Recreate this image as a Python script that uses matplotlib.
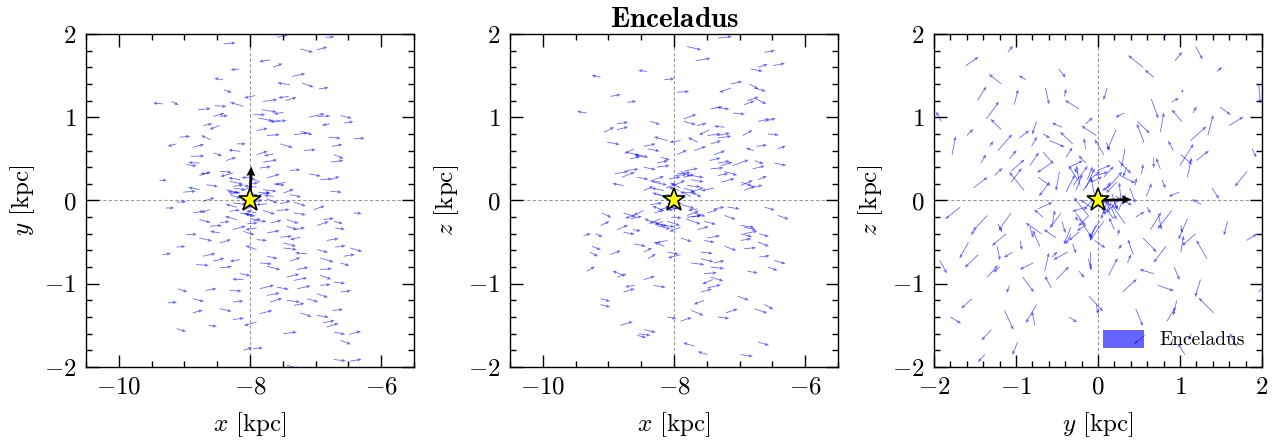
import matplotlib
matplotlib.use("Agg")
import matplotlib.pyplot as plt
from matplotlib.ticker import MultipleLocator

plt.rcParams['font.family'] = 'cmr10'
plt.rcParams['mathtext.fontset'] = 'cm'
plt.rcParams['axes.formatter.use_mathtext'] = True

# star positions [kpc] and velocities [km/s]
x = [-8.40, -7.59, -7.23, -6.98, -6.85, -7.69, -7.65, -8.17, -8.41, -8.40,
     -7.36, -7.21, -7.39, -6.95, -7.92, -7.80, -7.41, -7.46, -9.33, -9.20,
     -8.79, -8.54, -8.10, -7.82, -7.95, -7.49, -8.56, -8.46, -7.87, -7.67,
     -7.54, -7.10, -6.98, -6.62, -6.57, -8.71, -8.46, -6.78, -7.90, -7.74,
     -7.33, -7.23, -9.07, -8.60, -6.80, -6.42, -9.12, -8.87, -8.20, -7.54,
     -6.75, -8.15, -8.56, -8.90, -7.90, -7.64, -7.18, -6.72, -6.77, -8.77,
     -8.97, -8.36, -7.80, -8.46, -8.26, -7.85, -7.39, -7.10, -8.77, -8.61,
     -9.38, -8.31, -8.15, -7.74, -7.64, -7.46, -6.93, -6.77, -8.66, -8.26,
     -8.36, -9.02, -8.77, -7.80, -7.49, -6.77, -8.15, -8.31, -7.85, -7.64,
     -7.39, -9.12, -8.72, -8.26, -7.74, -7.54, -7.33, -9.28, -8.87, -8.61,
     -8.31, -8.10, -7.90, -7.59, -7.33, -7.03, -6.42, -8.77, -8.46, -8.20,
     -7.95, -7.69, -7.44, -6.88, -6.72, -8.61, -8.26, -7.90, -7.44, -7.33,
     -6.98, -6.70, -8.97, -8.77, -8.46, -8.10, -7.74, -7.54, -7.23, -8.46,
     -7.90, -7.49, -6.83, -9.12, -7.90, -7.49, -6.98, -6.70, -6.47, -9.33,
     -8.72, -7.74, -7.13, -6.93, -6.57, -8.82, -8.56, -8.15, -7.85, -7.39,
     -6.62, -8.46, -7.74, -7.28, -6.93, -8.15, -7.44, -6.93, -8.10, -7.33,
     -6.72, -7.85, -7.59, -6.93, -9.10, -8.67, -8.31, -7.28, -6.98, -6.62,
     -7.74, -8.87, -8.26, -7.69, -7.44, -7.13, -9.25, -7.33, -8.46, -7.85,
     -7.23, -6.74, -8.87, -6.98, -8.26, -7.90, -6.88, -8.63, -6.83, -9.12,
     -7.49, -6.72, -6.49, -6.62, -7.95, -8.10, -6.72, -6.47, -7.44,
     -8.05, -7.95, -8.12, -7.88, -8.20, -7.80, -8.02, -7.92, -8.10, -7.98,
     -8.25, -7.85, -8.00, -8.15, -7.90, -8.08, -7.75, -8.30, -7.96, -8.04]
y = [1.88, 1.96, 1.82, 1.81, 1.96, 1.69, 1.60, 1.58, 1.45, 1.33,
     1.49, 1.41, 1.39, 1.34, 1.26, 1.19, 1.25, 1.20, 1.16, 1.19,
     1.09, 1.14, 1.13, 1.09, 1.03, 1.06, 1.01, 1.01, 0.99, 0.94,
     0.96, 1.00, 1.01, 1.02, 0.93, 0.90, 0.90, 0.92, 0.84, 0.78,
     0.79, 0.83, 0.76, 0.73, 0.76, 0.74, 0.68, 0.64, 0.68, 0.68,
     0.65, 0.59, 0.57, 0.53, 0.55, 0.56, 0.60, 0.55, 0.46, 0.45,
     0.43, 0.48, 0.46, 0.35, 0.33, 0.39, 0.36, 0.32, 0.30, 0.33,
     0.24, 0.23, 0.25, 0.27, 0.20, 0.22, 0.25, 0.25, 0.19, 0.17,
     0.13, 0.10, 0.13, 0.13, 0.09, 0.11, 0.09, 0.07, 0.07, 0.05,
     0.07, -0.02, -0.01, -0.03, -0.04, -0.04, -0.02, -0.09, -0.15, -0.11,
     -0.13, -0.15, -0.15, -0.12, -0.15, -0.11, -0.15, -0.23, -0.27, -0.23,
     -0.24, -0.27, -0.23, -0.23, -0.25, -0.31, -0.35, -0.33, -0.31, -0.35,
     -0.30, -0.33, -0.41, -0.45, -0.39, -0.37, -0.39, -0.44, -0.44, -0.51,
     -0.47, -0.51, -0.48, -0.56, -0.59, -0.57, -0.59, -0.56, -0.57, -0.65,
     -0.67, -0.67, -0.64, -0.69, -0.67, -0.77, -0.73, -0.71, -0.75, -0.73,
     -0.75, -0.81, -0.79, -0.83, -0.83, -0.88, -0.92, -0.90, -0.95, -0.96,
     -0.98, -1.06, -1.04, -1.02, -1.06, -1.08, -1.08, -1.06, -1.12, -1.10,
     -1.14, -1.18, -1.22, -1.22, -1.20, -1.18, -1.23, -1.26, -1.30, -1.36,
     -1.35, -1.32, -1.35, -1.38, -1.43, -1.46, -1.47, -1.50, -1.52, -1.54,
     -1.60, -1.58, -1.61, -1.68, -1.78, -1.80, -1.91, -1.93, -1.98,
     0.05, -0.06, 0.12, 0.10, -0.08, -0.12, 0.20, -0.18, 0.02, -0.03,
     0.15, 0.22, -0.22, -0.15, 0.16, -0.10, 0.02, 0.08, 0.28, -0.28]
z = [0.62, -1.10, 0.35, -0.48, 1.40, -1.75, 0.90, -0.25, 1.55, -0.70,
     1.12, -1.35, 0.15, 0.78, -0.05, 1.85, -0.95, 0.48, 1.05, -0.40,
     0.28, -1.60, 0.72, -0.22, 1.30, -1.85, 0.55, -0.62, 0.10, 1.68,
     -1.20, 0.42, -0.30, 0.95, -0.80, 1.18, -0.12, 0.60, -1.45, 0.25,
     1.95, -0.55, 0.82, -1.02, 0.38, -0.18, 1.48, -0.35, 0.52, -0.88,
     1.22, 0.05, -1.62, 0.32, -0.45, 0.70, -0.08, 1.60, -1.30, 0.18,
     -0.65, 0.95, -0.20, 0.40, -0.28, 0.15, -0.75, 1.05, -1.10, 0.62,
     -0.42, 0.22, -0.12, 0.30, -0.35, 0.85, -0.58, 0.48, -0.22, 0.08,
     -0.05, 0.70, -0.90, 0.18, -0.15, 1.35, 0.12, -0.25, 0.28, -0.10,
     0.55, -1.25, 0.36, -0.30, 0.05, -0.48, 0.78, -0.62, 0.92, -0.18,
     0.25, -0.08, 0.15, -0.70, 0.45, -1.15, 0.62, -0.38, 0.12, -0.22,
     0.32, -0.15, 1.10, -0.85, 0.25, -0.52, 0.40, -0.32, 0.68, -1.40,
     0.18, -0.40, 1.25, -0.15, 0.52, -0.62, 0.10, -0.25, 0.88, -0.95,
     0.35, -0.45, 1.58, -0.30, 0.72, -1.05, 0.22, -0.68, 0.45, -0.85,
     0.58, -0.20, 1.35, -0.40, 0.80, -1.50, 0.28, -0.55, 0.95, -0.10,
     -1.25, 0.65, -0.75, 0.42, -0.32, 1.45, -0.92, 0.12, -0.48, 0.75,
     -1.70, 0.35, -0.62, 1.15, -0.15, 0.50, -1.02, 0.22, -0.40, 1.78,
     -1.32, 0.85, -0.28, 0.60, -0.80, 1.40, -0.55, 0.30, -1.55, 0.98,
     -0.18, 0.65, -0.92, -1.85, 0.45, -0.65, 1.20, -0.35, 0.15, -1.18,
     0.78, -0.50, 1.62, -0.08, 0.55, -1.40, 0.95, -0.72, 0.38,
     0.08, -0.10, 0.15, -0.05, 0.22, -0.18, -0.02, 0.12, -0.25, 0.30,
     -0.12, 0.05, 0.18, -0.30, -0.08, 0.26, 0.10, -0.15, 0.02, -0.20]
vx = [160, 150, 170, 140, 120, -150, 130, -110, -120, 110,
      180, 160, -170, 130, -150, 190, -140, 150, -130, 100,
      170, 160, -180, 200, 160, -130, 150, 110, 190, 200,
      -140, 210, 180, 150, 130, 120, -140, -110, 150, 170,
      190, 160, 140, -130, 160, 150, -120, 150, 120, 170,
      140, -160, 120, 180, 150, -130, 160, 130, 170, -150,
      140, 130, 190, 160, -170, 150, 140, 160, 150, -130,
      100, 180, -160, 170, 150, -140, 160, 120, 150, 140,
      160, 170, -150, 180, 140, 150, -170, 150, 140, -130,
      150, 130, 160, 180, -150, 140, 160, 110, 150, -120,
      140, 150, -140, 170, 160, 150, 110, 150, 130, -160,
      180, 150, 160, 140, 120, 160, 170, -150, 140, 150,
      160, 130, 140, 170, -130, 150, 170, 160, -140, 150,
      140, 170, 160, 120, -150, 180, 150, 140, 160, 110,
      170, 140, -160, 180, 150, 170, 150, -140, 160, 140,
      120, 160, 180, 150, 160, 140, 170, 150, -150, 180,
      150, 190, 160, 140, 130, 140, 160, 180, 150, 140,
      170, 150, 140, 160, 180, 150, 120, 140, 160, 170,
      150, 140, 130, 160, 150, -170, 150, 110, 160, 130,
      180, 150, 160, 140, 130, 120, 160, 150, 170,
      150, -160, 140, 170, -150, 160, 130, -140, 170, 150,
      160, -130, 150, 140, -170, 160, 150, 130, -150, 140]
vy = [12, 28, -35, 30, 5, -20, 40, -10, 15, -30,
      30, -42, 20, 15, -25, 20, -15, 35, 10, -38,
      12, -10, 44, -25, 0, -20, 32, 8, -30, 20,
      -10, 38, 5, -28, 15, 20, -40, -15, 25, 10,
      20, -35, 10, 45, -12, 8, -25, 30, 0, -40,
      20, 15, -30, 5, 38, -20, 10, -42, 20, 5,
      -15, 35, 25, -10, -38, 15, 10, -25, 40, -10,
      5, -30, 20, 42, -15, -25, 10, 35, -20, 15,
      -35, 10, 25, -18, 40, -10, 15, -40, 28, 10,
      -25, 5, 38, -15, -10, 30, -42, 0, 20, -30,
      15, -38, 25, 10, -20, 40, -5, -30, 18, 35,
      -12, 28, -40, 15, -25, 10, 38, -20, -35, 22,
      40, -15, 5, -32, 18, -40, 25, 10, -28, 36,
      -10, -35, 20, 8, 42, -18, -30, 15, -40, 12,
      30, -25, 10, -44, 20, -8, 35, -20, -12, 40,
      -30, 15, -38, 25, 10, -20, 32, -42, 5, 28,
      -15, 38, -25, 10, -35, 20, -8, 30, -40, 15,
      25, -30, 12, 40, -18, -35, 8, 22, -28, 35,
      -40, 10, 30, -20, 15, -38, 25, -12, 40, -30,
      18, -25, 35, -42, 10, 30, -15, 20, -35,
      20, -35, 40, -15, 30, -40, 10, 25, -30, 35,
      -20, 45, -10, -25, 15, 30, -45, 20, -5, 10]
vz = [-24, 33, -42, 18, -54, 36, 24, -39, 12, 51,
      -21, 42, -30, 57, 15, -36, -48, 27, 18, -33,
      54, -18, 39, -57, 9, 30, -27, 45, -12, 24,
      -42, 60, -21, 33, -36, 12, -51, 27, 39, -24,
      18, -45, 54, -15, 30, -39, 21, 48, -30, 12,
      -54, 36, -24, 27, -39, 51, -18, 33, -48, 21,
      42, -33, 15, -27, 54, -42, 24, -12, 36, -51,
      18, -30, 45, -21, 33, -57, 12, -36, 27, -45,
      18, -24, 48, -15, 39, -33, 24, -54, 30, -18,
      42, -27, 15, -39, 51, -21, 27, -45, 18, -30,
      36, -12, 54, -33, 21, -42, 30, -24, 45, -51,
      15, -36, 24, -18, 39, -27, 18, -48, 33, -15,
      54, -30, 21, -42, 27, -21, 48, -33, 12, 36,
      -54, 24, -24, 42, -18, 33, -39, 15, -27, 51,
      -33, 21, -45, 30, -12, 39, -24, 45, -36, 18,
      -51, 27, -18, 36, -30, 12, -42, 51, -27, 21,
      -36, 33, -15, 42, -48, 24, -21, 39, -33, 18,
      -54, 30, -24, 45, -15, 27, -39, 21, -30, 48,
      -42, 15, 33, -21, 24, -36, 39, -15, 30, -27,
      18, -45, 24, -33, 51, -18, 27, -36, 12,
      -30, 25, 45, -40, 15, 50, -20, 35, -45, 10,
      40, -25, 55, -15, -35, 20, -50, 30, 45, -10]

sun_pos = [-8.0, 0.0, 0.0]
sun_vel = [11.1, 245.0, 7.3]

label = 'Enceladus'

# (position indices, x-limits, major, minor, labels, quiver scale)
panels = [
    ((0, 1), (-10.5, -5.5), 2, 0.5, r'$x$ [kpc]', r'$y$ [kpc]', 880),
    ((0, 2), (-10.5, -5.5), 2, 0.5, r'$x$ [kpc]', r'$z$ [kpc]', 880),
    ((1, 2), (-2, 2), 1, 0.2, r'$y$ [kpc]', r'$z$ [kpc]', 230),
]
pos = [x, y, z]
vel = [vx, vy, vz]

fig = plt.figure(figsize=(12.86, 4.43), dpi=100)
lefts = [0.0669, 0.3966, 0.7263]

for k, (idx, xlim, xmaj, xmin, xl, yl, scale) in enumerate(panels):
    ax = fig.add_axes([lefts[k], 0.1716, 0.255, 0.7517])
    i, j = idx
    ax.axvline(sun_pos[i], color='0.6', ls=(0, (3, 2)), lw=0.8, zorder=0)
    ax.axhline(sun_pos[j], color='0.6', ls=(0, (3, 2)), lw=0.8, zorder=0)
    ax.quiver(pos[i], pos[j], vel[i], vel[j], angles='xy', scale_units='xy',
              scale=scale, color='blue', alpha=0.6, width=0.0025,
              headwidth=4, headlength=5, headaxislength=4.5,
              label=label, zorder=2)
    ax.quiver([sun_pos[i]], [sun_pos[j]], [sun_vel[i]], [sun_vel[j]],
              angles='xy', scale_units='xy', scale=600, color='black',
              width=0.0085, headwidth=3.2, headlength=3.4, headaxislength=3.1,
              zorder=4)
    ax.plot(sun_pos[i], sun_pos[j], marker='*', ms=17, mfc='yellow',
            mec='black', mew=1.2, zorder=5)
    ax.set_xlim(*xlim)
    ax.set_ylim(-2, 2)
    ax.xaxis.set_major_locator(MultipleLocator(xmaj))
    ax.xaxis.set_minor_locator(MultipleLocator(xmin))
    ax.yaxis.set_major_locator(MultipleLocator(1))
    ax.yaxis.set_minor_locator(MultipleLocator(0.2))
    ax.tick_params(which='both', direction='in', top=True, right=True,
                   labelsize=18, width=1.0)
    ax.tick_params(which='major', length=9, pad=7)
    ax.tick_params(which='minor', length=4.5)
    for s in ax.spines.values():
        s.set_linewidth(1.0)
    ax.set_xlabel(xl, fontsize=18, labelpad=8)
    ax.set_ylabel(yl, fontsize=18, labelpad=5)
    if k == 1:
        ax.set_title(r'$\mathbf{Enceladus}$', fontsize=21, pad=5)
    if k == 2:
        ax.legend(loc='lower right', frameon=False, fontsize=14,
                  handlelength=2.1, handleheight=1.0)

fig.savefig('out.png', dpi=100)
